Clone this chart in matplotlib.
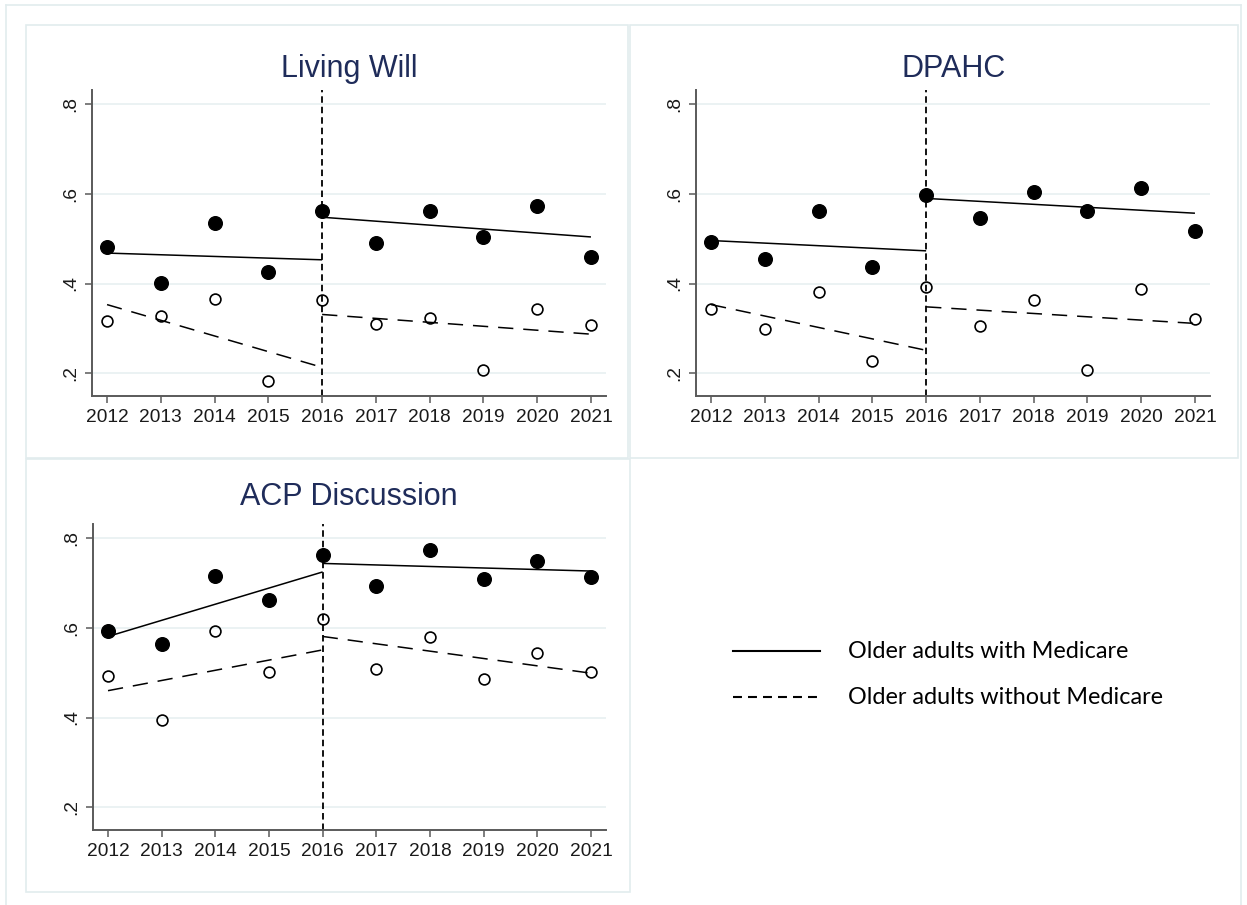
import matplotlib
matplotlib.use("Agg")
import matplotlib.pyplot as plt
from matplotlib.lines import Line2D
from matplotlib.patches import Rectangle

# ---------------- data ----------------
years = [2012, 2013, 2014, 2015, 2016, 2017, 2018, 2019, 2020, 2021]
panel_titles = ["Living Will", "DPAHC", "ACP Discussion"]
y_ticks = [0.2, 0.4, 0.6, 0.8]
y_tick_labels = [".2", ".4", ".6", ".8"]
legend_labels = ["Older adults with Medicare", "Older adults without Medicare"]

# observed proportions: older adults with Medicare (filled) / without (hollow)
lw_with = [0.481, 0.401, 0.536, 0.426, 0.563, 0.490, 0.563, 0.505, 0.572, 0.459]
lw_without = [0.316, 0.327, 0.366, 0.183, 0.363, 0.309, 0.322, 0.207, 0.344, 0.307]
dp_with = [0.493, 0.455, 0.563, 0.437, 0.598, 0.547, 0.604, 0.561, 0.614, 0.518]
dp_without = [0.344, 0.298, 0.381, 0.227, 0.392, 0.305, 0.363, 0.207, 0.387, 0.320]
acp_with = [0.593, 0.564, 0.717, 0.662, 0.762, 0.693, 0.774, 0.710, 0.749, 0.713]
acp_without = [0.493, 0.395, 0.593, 0.501, 0.620, 0.509, 0.580, 0.487, 0.545, 0.501]

# fitted segmented trend lines (pre: 2012-2016, post: 2016-2021), endpoints
pre_years = [2012, 2016]
post_years = [2016, 2021]
lw_fit_with_pre = [0.468, 0.453]
lw_fit_with_post = [0.548, 0.504]
lw_fit_without_pre = [0.353, 0.213]
lw_fit_without_post = [0.331, 0.287]
dp_fit_with_pre = [0.496, 0.473]
dp_fit_with_post = [0.590, 0.557]
dp_fit_without_pre = [0.353, 0.251]
dp_fit_without_post = [0.348, 0.311]
acp_fit_with_pre = [0.581, 0.725]
acp_fit_with_post = [0.744, 0.727]
acp_fit_without_pre = [0.460, 0.551]
acp_fit_without_post = [0.581, 0.499]
policy_year = 2016

panels = [
    (lw_with, lw_without, lw_fit_with_pre, lw_fit_with_post, lw_fit_without_pre, lw_fit_without_post),
    (dp_with, dp_without, dp_fit_with_pre, dp_fit_with_post, dp_fit_without_pre, dp_fit_without_post),
    (acp_with, acp_without, acp_fit_with_pre, acp_fit_with_post, acp_fit_without_pre, acp_fit_without_post),
]

# ---------------- layout ----------------
W, H = 1247, 905
DPI = 100
fig = plt.figure(figsize=(W / DPI, H / DPI), dpi=DPI)
fig.patch.set_facecolor("white")

def rect(left, top, right, bottom):
    return [left / W, 1 - bottom / H, (right - left) / W, (bottom - top) / H]

BORDER = "#e2ecee"
GRID = "#e6eff0"
AXIS = "#5a5a5a"
TITLE = "#1f2c5a"

def frame(l, t, r, b):
    fig.patches.append(Rectangle((l / W, 1 - b / H), (r - l) / W, (b - t) / H,
                                 transform=fig.transFigure, fill=False,
                                 edgecolor=BORDER, linewidth=1.2, zorder=0))

fig.lines.append(Line2D([6 / W, 6 / W], [0, 1 - 5 / H], transform=fig.transFigure,
                        color=BORDER, lw=1.2))
fig.lines.append(Line2D([6 / W, 1241 / W], [1 - 5 / H, 1 - 5 / H], transform=fig.transFigure,
                        color=BORDER, lw=1.2))
fig.lines.append(Line2D([1241 / W, 1241 / W], [0, 1 - 5 / H], transform=fig.transFigure,
                        color=BORDER, lw=1.2))
frame(26, 25, 628, 458)
frame(630, 25, 1238, 458)
frame(26, 459, 630, 892)

axes_rects = [rect(92, 90, 606, 396), rect(696, 90, 1210, 396), rect(93, 524, 606, 830)]
title_y = [69, 69, 497]
title_x = [349, 954, 349]

tick_font = dict(family="Liberation Sans", size=13.8, color="#1a1a1a")

for i, (ar, data) in enumerate(zip(axes_rects, panels)):
    yw, ywo, fwp, fwq, fop, foq = data
    ax = fig.add_axes(ar)
    ax.set_xlim(2011.72, 2021.28)
    ax.set_ylim(0.149, 0.832)
    ax.set_facecolor("none")
    for s in ["top", "right"]:
        ax.spines[s].set_visible(False)
    for s in ["left", "bottom"]:
        ax.spines[s].set_color(AXIS)
        ax.spines[s].set_linewidth(1.4)
    ax.set_xticks(years)
    ax.set_xticklabels([str(y) for y in years], fontdict=tick_font)
    ax.set_yticks(y_ticks)
    ax.set_yticklabels(y_tick_labels, fontdict=tick_font, rotation=90, va="center")
    ax.tick_params(axis="both", length=5, width=1.1, color=AXIS, pad=4)
    for yt in y_ticks:
        ax.axhline(yt, color=GRID, lw=1.1, zorder=0)

    ax.axvline(policy_year, color="black", lw=1.3, dashes=(3.6, 2.2), zorder=2)

    ax.plot(pre_years, fwp, color="black", lw=1.1, zorder=3, solid_capstyle="butt")
    ax.plot(post_years, fwq, color="black", lw=1.1, zorder=3, solid_capstyle="butt")
    ax.plot(pre_years, fop, color="black", lw=1.1, dashes=(10, 6.5), zorder=3)
    ax.plot(post_years, foq, color="black", lw=1.1, dashes=(10, 6.5), zorder=3)

    ax.plot(years, yw, "o", color="black", markersize=9.8, zorder=4, clip_on=False)
    ax.plot(years, ywo, "o", markerfacecolor="none", markeredgecolor="black",
            markeredgewidth=1.2, markersize=7.8, zorder=4, clip_on=False)

    fig.text(title_x[i] / W, 1 - title_y[i] / H, panel_titles[i], ha="center", va="center",
             family="Liberation Sans", fontsize=22, color=TITLE)

# legend
fig.lines.append(Line2D([733 / W, 820 / W], [1 - 651 / H] * 2, transform=fig.transFigure,
                        color="black", lw=1.5))
fig.lines.append(Line2D([733 / W, 820 / W], [1 - 697 / H] * 2, transform=fig.transFigure,
                        color="black", lw=1.5, dashes=(4.3, 2.9)))
fig.text(848 / W, 1 - 651 / H, legend_labels[0], ha="left", va="center",
         family="Lato", fontsize=16.8, color="black")
fig.text(848 / W, 1 - 697 / H, legend_labels[1], ha="left", va="center",
         family="Lato", fontsize=16.8, color="black")

fig.savefig("out.png", dpi=DPI, facecolor="white")
